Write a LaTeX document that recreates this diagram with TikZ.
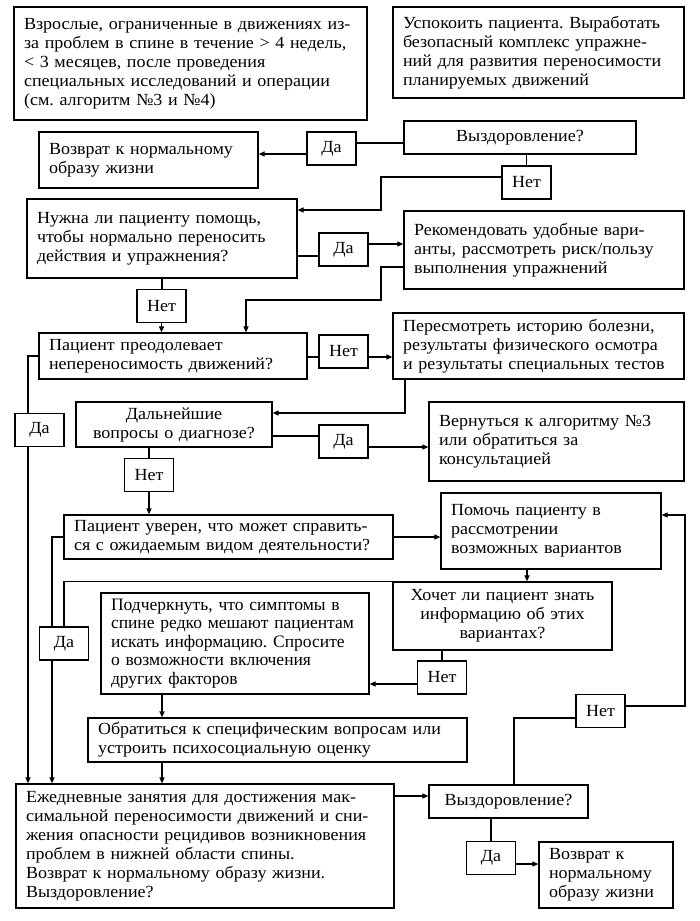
\documentclass[tikz,border=0pt]{standalone}
\usepackage{fontspec}
\setmainfont[FakeStretch=1.06]{Liberation Serif}
\newfontfamily\narrowfont{Liberation Serif}
\usetikzlibrary{arrows.meta}
\newcommand\boxfont{\fontsize{17}{19}\selectfont\frenchspacing}
\tikzset{
  box/.style 2 args={draw, align=left, inner xsep=10pt, inner ysep=0pt, text width=#1, minimum height=#2, font=\boxfont},
  cbox/.style 2 args={box={#1}{#2}, align=center},
  lbl/.style={draw, minimum width=49pt, minimum height=33pt, inner sep=0pt, font=\boxfont},
  arr/.style={-{Triangle[length=6pt,width=5pt]}},
}
\begin{document}
\begin{tikzpicture}[x=1pt,y=-1pt,line width=1.2pt]
 \useasboundingbox (0,0) rectangle (700,921);

 % boxes
 \node[box={333pt}{113pt}] (adult) at (190.5,63.5) {Взрослые, ограниченные в движениях из-\\за проблем в спине в течение > 4 недель,\\< 3 месяцев, после проведения\\специальных исследований и операции\\(см. алгоритм №3 и №4)};
 \node[box={271pt}{91pt}] (calm) at (538.5,52.5) {Успокоить пациента. Выработать\\безопасный комплекс упражне-\\ний для развития переносимости\\планируемых движений};
 \node[box={199pt}{56pt}] (rec1) at (148.5,160) {Возврат к нормальному\\образу жизни};
 \node[cbox={212pt}{33pt}] (ok1) at (520,137.5) {Выздоровление?};
 \node[box={250pt}{79pt}] (help) at (162,238.5) {Нужна ли пациенту помощь,\\чтобы нормально переносить\\действия и упражнения?};
 \node[box={260pt}{78pt}] (advise) at (544,250) {Рекомендовать удобные вари-\\анты, рассмотреть риск/пользу\\выполнения упражнений};
 \node[box={248pt}{46pt}] (over) at (173,356) {Пациент преодолевает\\непереносимость движений?};
 \node[box={271pt}{66pt}] (review) at (538.5,346) {Пересмотреть историю болезни,\\результаты физического осмотра\\и результаты специальных тестов};
 \node[cbox={176pt}{45pt}] (diag) at (174,424.5) {Дальнейшие\\вопросы о диагнозе?};
 \node[box={235pt}{79pt}] (algo) at (556.5,441.5) {Вернуться к алгоритму №3\\или обратиться за\\консультацией};
 \node[box={309pt}{44pt}] (sure) at (228.5,537) {Пациент уверен, что может справить-\\ся с ожидаемым видом деятельности?};
 \node[box={200pt}{76pt}] (assist) at (551,531) {Помочь пациенту в\\рассмотрении\\возможных вариантов};
 \node[cbox={199pt}{68pt}] (want) at (502.5,616) {Хочет ли пациент знать\\информацию об этих\\вариантах?};
 \node[box={248pt}{101pt}, font=\narrowfont\fontsize{17.5}{18.5}\selectfont\frenchspacing] (stress) at (235,643.5) {Подчеркнуть, что симптомы в\\спине редко мешают пациентам\\искать информацию. Спросите\\о возможности включения\\других факторов};
 \node[box={359pt}{44pt}] (psych) at (277.5,740) {Обратиться к специфическим вопросам или\\устроить психосоциальную оценку};
 \node[box={358pt}{124pt}] (daily) at (205,846) {Ежедневные занятия для достижения мак-\\симальной переносимости движений и сни-\\жения опасности рецидивов возникновения\\проблем в нижней области спины.\\Возврат к нормальному образу жизни.\\Выздоровление?};
 \node[cbox={139pt}{33pt}] (ok2) at (508.5,801.5) {Выздоровление?};
 \node[box={114pt}{66pt}] (rec2) at (606,875) {Возврат к\\нормальному\\образу жизни};

 % yes / no
 \node[lbl] (yes1) at (331.5,148.5) {Да};
 \node[lbl] (no1) at (526.5,182.5) {Нет};
 \node[lbl] (yes2) at (343.5,249.5) {Да};
 \node[lbl] (no2) at (161.5,306) {Нет};
 \node[lbl] (no3) at (343.5,351.5) {Нет};
 \node[lbl] (yes3) at (343.5,441.5) {Да};
 \node[lbl] (no4) at (149,475) {Нет};
 \node[lbl] (yes5) at (39.5,430) {Да};
 \node[lbl] (yes4) at (64,643.5) {Да};
 \node[lbl] (no5) at (442,677.5) {Нет};
 \node[lbl] (no6) at (600.5,711) {Нет};
 \node[lbl] (yes6) at (491,858) {Да};

 % connectors
 \draw ([yshift=-5.5pt]ok1.west) -- ([yshift=5.5pt]yes1.east);
 \draw[arr] ([yshift=-5.5pt]yes1.west) -- ([yshift=-5.5pt]yes1.west -| rec1.east);
 \draw (ok1.south -| no1.north) -- (no1.north);
 \draw[arr] ([yshift=5.5pt]no1.west) -| (381,210) -- ([yshift=28.5pt]help.east);
 \draw ([yshift=-17.5pt]help.east) -- ([yshift=-6.5pt]yes2.west);
 \draw[arr] ([yshift=5.5pt]yes2.east) -- ([yshift=5.5pt]yes2.east -| advise.west);
 \draw[arr] ([yshift=-17pt]advise.west) -| (381,300) -| ([xshift=73pt]over.north);
 \draw (help.south) -- (help.south |- no2.north);
 \draw[arr] (no2.south) -- (no2.south |- over.north);
 \draw ([yshift=-1pt]over.east) -- ([yshift=-5.5pt]no3.west);
 \draw[arr] ([yshift=-5.5pt]no3.east) -- ([yshift=-5.5pt]no3.east -| review.west);
 \draw[arr] ([xshift=-133.5pt]review.south) |- ([yshift=11.5pt]diag.east);
 \draw ([yshift=-11.5pt]diag.east) -- ([yshift=5.5pt]yes3.west);
 \draw[arr] ([yshift=-5.5pt]yes3.east) -- ([yshift=-5.5pt]yes3.east -| algo.west);
 \draw ([xshift=-25pt]diag.south) -- (no4.north);
 \draw[arr] (no4.south) -- (no4.south |- sure.north);
 \draw (over.west) -| ([xshift=-11.5pt]yes5.north);
 \draw[arr] ([xshift=-11.5pt]yes5.south) -- ([xshift=-11.5pt]yes5.south |- daily.north);
 \draw[arr] (sure.east) -- (sure.east -| assist.west);
 \draw[arr] ([xshift=-24pt]assist.south) -- ([xshift=-24pt]assist.south |- want.north);
 \draw (sure.west) -| ([xshift=-12pt]yes4.north);
 \draw (want.north west) -| (yes4.north);
 \draw[arr] ([xshift=-12pt]yes4.south) -- ([xshift=-12pt]yes4.south |- daily.north);
 \draw (no5.north |- want.south) -- (no5.north);
 \draw[arr] ([yshift=-6.5pt]no5.west) -- ([yshift=-6.5pt]no5.west -| stress.east);
 \draw[arr] ([xshift=-73pt]stress.south) -- ([xshift=-73pt]stress.south |- psych.north);
 \draw[arr] ([xshift=-115.5pt]psych.south) -- ([xshift=-115.5pt]psych.south |- daily.north);
 \draw[arr] ([yshift=50pt]daily.east) -- ([yshift=50pt]daily.east -| ok2.west);
 \draw ([xshift=5.5pt]ok2.north) |- ([yshift=-7pt]no6.west);
 \draw[arr] ([yshift=5pt]no6.east) -| (685,515) -- ([yshift=16pt]assist.east);
 \draw (ok2.south -| yes6.north) -- (yes6.north);
 \draw[arr] ([yshift=-6pt]yes6.east) -- ([yshift=-6pt]yes6.east -| rec2.west);

\end{tikzpicture}
\end{document}
